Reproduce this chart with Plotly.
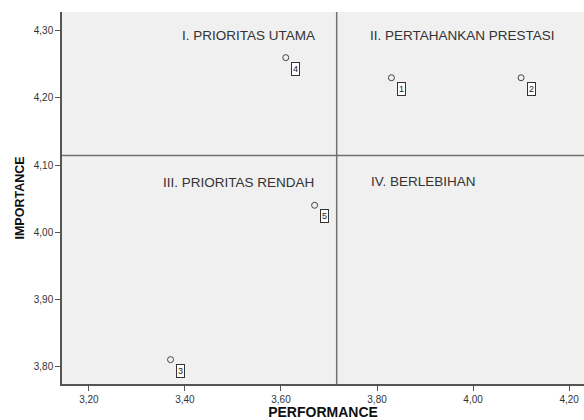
import plotly.graph_objects as go

ids = ["1", "2", "3", "4", "5"]
performance = [3.83, 4.10, 3.37, 3.61, 3.67]
importance = [4.23, 4.23, 3.81, 4.26, 4.04]
x_ticks = [3.20, 3.40, 3.60, 3.80, 4.00, 4.20]
y_ticks = [3.80, 3.90, 4.00, 4.10, 4.20, 4.30]
quad_labels = ["I. PRIORITAS UTAMA", "II. PERTAHANKAN PRESTASI",
               "III. PRIORITAS RENDAH", "IV. BERLEBIHAN"]

x_mean = sum(performance) / len(performance)
y_mean = sum(importance) / len(importance)

FONT = "Liberation Sans, Arial, sans-serif"
x_range = [3.144, 4.231]
y_range = [3.7737, 4.328]

L, T, R_EDGE, B_EDGE = 62, 12, 584, 383.7
W, H = 584, 420

fig = go.Figure()
fig.add_trace(go.Scatter(
    x=performance, y=importance, mode="markers",
    marker=dict(symbol="circle-open", size=6, color="#444444", line=dict(width=1)),
    showlegend=False, hoverinfo="skip"))

for i, px, py in zip(ids, performance, importance):
    fig.add_annotation(x=px, y=py, text=i, showarrow=False, xshift=10, yshift=-11,
                       font=dict(family=FONT, size=9, color="#222222"),
                       bordercolor="#333333", borderwidth=1, borderpad=1,
                       bgcolor="#FFFFFF")

# quadrant reference lines
fig.add_shape(type="line", x0=x_mean, x1=x_mean, y0=0, y1=1, xref="x", yref="paper",
              line=dict(color="#707070", width=1.5))
fig.add_shape(type="line", x0=0, x1=1, y0=y_mean, y1=y_mean, xref="paper", yref="y",
              line=dict(color="#707070", width=1.5))

qpos = [(248, 35), (462, 35), (238, 182), (423, 181)]
for txt, (px, py) in zip(quad_labels, qpos):
    fig.add_annotation(x=(px - L) / (R_EDGE - L), y=1 - (py - T) / (B_EDGE - T),
                       xref="paper", yref="paper", text=txt, showarrow=False,
                       xanchor="center", yanchor="middle",
                       font=dict(family=FONT, size=13.5, color="#333333"))

axis_common = dict(showgrid=False, zeroline=False, showline=True, linecolor="#555555",
                   linewidth=1.5, ticks="outside", ticklen=5, tickcolor="#555555",
                   tickfont=dict(family=FONT, size=10, color="#333333"),
                   tickformat=".2f", mirror=False, automargin=False)

fig.update_xaxes(range=x_range, tickvals=x_ticks,
                 title=dict(text="<b>PERFORMANCE</b>", font=dict(family=FONT, size=14, color="#111111"),
                            standoff=14), **axis_common)
fig.update_yaxes(range=y_range, tickvals=y_ticks,
                 title=dict(text="<b>IMPORTANCE</b>", font=dict(family=FONT, size=12.5, color="#111111"),
                            standoff=6), **axis_common)

fig.update_layout(width=W, height=H,
                  margin=dict(l=L, r=0, t=T, b=H - B_EDGE, pad=0),
                  plot_bgcolor="#F0F0F0", paper_bgcolor="#FFFFFF", separators=",.")

fig.write_html("out.html", config={"displayModeBar": False},
               post_script="document.body.style.margin='0';document.body.style.overflow='hidden';")
